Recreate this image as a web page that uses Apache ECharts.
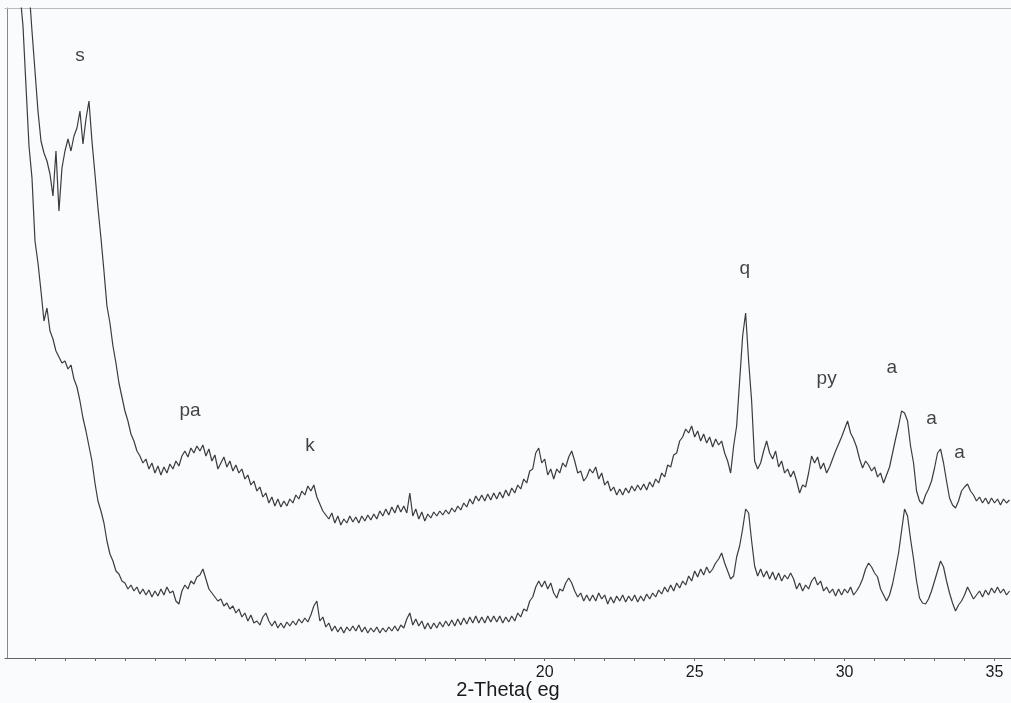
<!DOCTYPE html>
<html>
<head>
<meta charset="utf-8">
<script src="https://cdn.jsdelivr.net/npm/echarts@6/dist/echarts.min.js"></script>
<style>
html,body{margin:0;padding:0;background:#fafbfc;}
#chart{width:1011px;height:703px;}
</style>
</head>
<body>
<div id="chart"></div>
<script>
// 2-Theta scan: start angle and step (degrees)
const twoThetaStart = 2.2;
const twoThetaStep = 0.1;

// Upper pattern intensities (arbitrary units), one per step
const upperPattern = [
900,860,820,780,740,705,670,627,587,547,
517,505,497,484,462,507,447,490,507,519,
507,522,530,547,514,539,557,517,484,450,
420,387,352,335,312,295,275,261,247,237,
224,217,207,202,195,199,189,195,185,192,
183,191,185,194,189,197,192,202,207,201,
210,205,212,207,213,202,209,197,203,189,
195,201,191,197,187,193,185,189,179,183,
173,177,167,171,161,165,155,161,152,159,
151,157,152,159,155,163,159,167,163,172,
167,173,161,154,147,143,139,145,135,142,
133,139,135,142,136,141,135,142,137,143,
138,144,139,147,142,149,143,151,145,153,
146,152,145,165,142,149,139,146,137,144,
140,146,142,147,143,148,144,150,146,152,
148,155,151,159,154,162,157,163,157,164,
158,165,159,166,160,168,162,170,165,173,
169,179,175,187,189,205,210,195,199,183,
189,179,189,185,195,191,201,207,197,185,
187,177,181,189,185,191,179,185,173,177,
167,171,163,169,163,170,165,172,167,173,
168,174,168,176,171,179,175,185,181,193,
191,203,205,217,221,229,225,232,221,227,
217,224,215,221,211,219,213,217,205,197,
185,212,232,277,322,345,297,257,197,189,
195,207,217,205,199,207,191,197,185,189,
181,187,177,165,173,171,185,202,195,201,
189,195,185,191,199,207,214,221,229,237,
225,219,211,199,190,197,193,187,191,181,
185,175,183,191,205,219,232,247,245,237,
212,195,167,157,154,163,169,177,190,205,
209,195,177,160,153,150,157,167,171,174,
167,163,157,161,155,160,154,160,155,159,
153,159,155,158
];

// Lower pattern intensities (arbitrary units), one per step
const lowerPattern = [
800,740,700,665,632,572,512,480,417,395,
367,337,350,327,319,307,301,295,297,289,
293,279,271,257,240,227,212,197,175,157,
147,135,117,104,97,87,84,77,75,69,
73,67,71,64,69,63,68,61,67,62,
69,63,71,65,67,57,54,67,73,69,
77,74,81,83,89,79,69,65,61,57,
59,52,55,49,52,45,49,41,45,37,
43,35,37,33,41,45,37,32,37,30,
35,30,36,32,37,33,39,35,40,36,
43,52,57,37,41,31,35,27,32,26,
31,25,31,27,32,27,33,26,31,25,
30,26,31,25,30,26,31,27,32,27,
33,30,39,45,33,39,32,37,29,35,
29,35,30,36,31,37,32,38,32,39,
33,40,34,41,35,42,35,41,35,42,
36,42,36,42,35,41,36,42,37,45,
41,49,47,57,61,71,77,71,77,69,
75,65,60,69,67,75,80,75,67,61,
65,57,63,57,63,57,65,59,63,54,
61,55,62,57,63,56,62,57,63,56,
62,57,64,59,65,61,68,64,71,66,
73,67,75,70,77,73,82,77,87,81,
89,83,91,85,89,95,99,105,95,87,
79,82,101,112,129,149,145,117,92,82,
89,81,87,79,86,78,85,77,83,79,
85,79,69,75,67,73,69,77,81,73,
77,67,71,65,69,62,69,63,69,65,
71,63,67,72,79,89,95,91,85,81,
69,63,57,63,74,89,105,127,149,142,
119,99,77,60,55,54,59,67,77,87,
97,91,77,65,55,47,53,57,63,71,
65,59,63,67,61,68,63,70,65,71,
65,69,63,67
];

// Phase annotations: [2-Theta, intensity, text]
const phaseLabels = [
  [4.5, 602, 's'],
  [8.17, 247, 'pa'],
  [12.17, 212, 'k'],
  [26.67, 389, 'q'],
  [29.4, 279, 'py'],
  [31.57, 290, 'a'],
  [32.9, 239, 'a'],
  [33.83, 205, 'a']
];

// Labelled x ticks
const labelledTicks = [20, 25, 30, 35];
const axisTitle = '2-Theta( eg';

function toPairs(arr) {
  return arr.map((v, i) => [+(twoThetaStart + i * twoThetaStep).toFixed(2), v]);
}

const chart = echarts.init(document.getElementById('chart'), null, {renderer: 'canvas'});
const font = '"Liberation Sans", Arial, sans-serif';
chart.setOption({
  animation: false,
  backgroundColor: '#fafbfc',
  grid: {left: 5, right: 0, top: 8, bottom: 45, containLabel: false, outerBoundsMode: 'none'},
  xAxis: [{
    type: 'value', min: 2, max: 35.55, interval: 1,
    name: axisTitle, nameLocation: 'middle', nameGap: 22, nameMoveOverlap: false,
    nameTextStyle: {color: '#1a1a1a', fontSize: 20, fontFamily: font},
    axisLine: {show: true, onZero: false, lineStyle: {color: '#666', width: 1}},
    axisTick: {show: true, length: 3, lineStyle: {color: '#666'}},
    axisLabel: {
      color: '#1a1a1a', fontSize: 16, fontFamily: font, margin: 7,
      showMinLabel: false, showMaxLabel: false,
      formatter: v => labelledTicks.indexOf(Math.round(v * 100) / 100) >= 0 ? String(v) : ''
    },
    splitLine: {show: false}
  }, {
    type: 'value', position: 'top', min: 2, max: 35.55,
    axisLine: {show: true, onZero: false, lineStyle: {color: '#bbb', width: 1}},
    axisTick: {show: false}, axisLabel: {show: false}, splitLine: {show: false}
  }],
  yAxis: {
    type: 'value', min: 0, max: 650, offset: -2,
    axisLine: {show: true, onZero: false, lineStyle: {color: '#888', width: 1}},
    axisTick: {show: false}, axisLabel: {show: false}, splitLine: {show: false}
  },
  series: [
    {
      type: 'line', data: toPairs(upperPattern), showSymbol: false, clip: true,
      lineStyle: {color: '#3c3c3c', width: 1.2}
    },
    {
      type: 'line', data: toPairs(lowerPattern), showSymbol: false, clip: true,
      lineStyle: {color: '#3c3c3c', width: 1.2}
    },
    {
      type: 'scatter', data: phaseLabels, symbolSize: 0, silent: true,
      label: {
        show: true, position: 'inside', formatter: p => p.data[2],
        color: '#111', fontSize: 19, fontFamily: font
      }
    }
  ]
});
</script>
</body>
</html>
